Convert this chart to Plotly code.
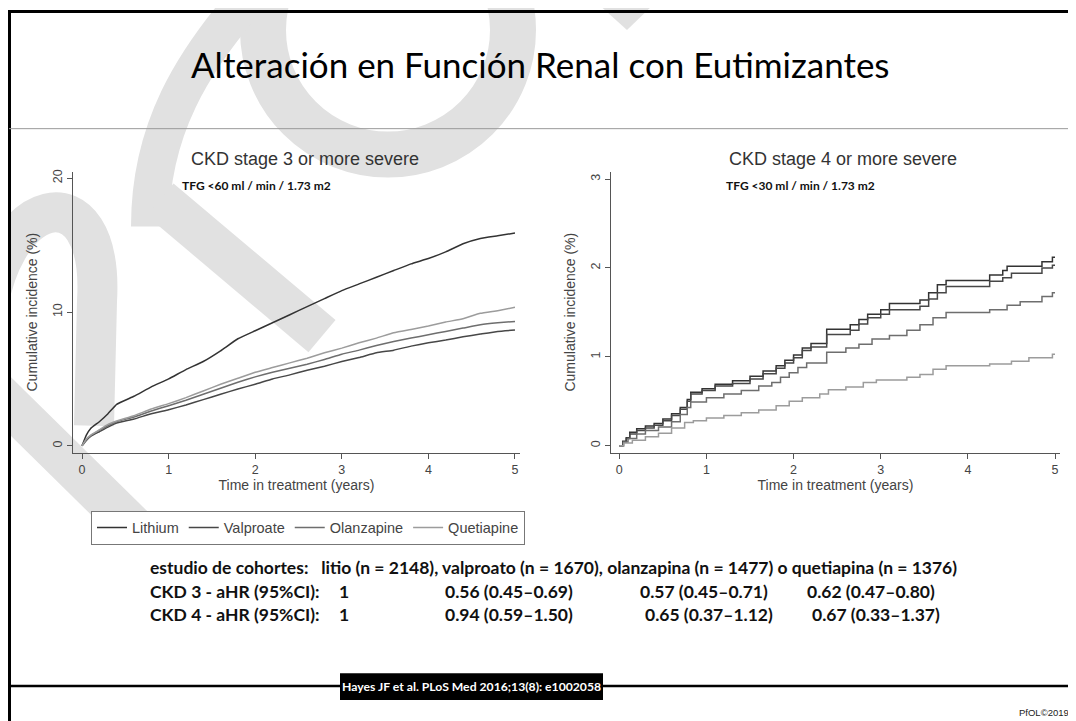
import plotly.graph_objects as go

# la página tiene 8 px de margen: la figura se dibuja desplazada
OFF = 8
W, H = 1076 - OFF, 721 - OFF

# ---- datos: incidencia acumulada (%) por año ----
farmacos = ["Lithium", "Valproate", "Olanzapine", "Quetiapine"]
colores = ["#333333", "#474747", "#6e6e6e", "#9c9c9c"]

# CKD estadio 3
t3 = [0, 0.05, 0.1, 0.2, 0.3, 0.4, 0.6, 0.8, 1.0, 1.2, 1.4, 1.6, 1.8, 2.0, 2.2,
      2.4, 2.6, 2.8, 3.0, 3.2, 3.4, 3.6, 3.8, 4.0, 4.2, 4.4, 4.6, 4.8, 5.0]
litio_3 = [0, 0.8, 1.3, 1.8, 2.4, 3.1, 3.7, 4.4, 5.0, 5.7, 6.3, 7.1, 8.0, 8.6, 9.2,
           9.8, 10.4, 11.0, 11.6, 12.1, 12.6, 13.1, 13.6, 14.0, 14.5, 15.1, 15.5, 15.7, 15.9]
valpro_3 = [0, 0.4, 0.7, 1.05, 1.4, 1.7, 2.0, 2.4, 2.7, 3.05, 3.45, 3.85, 4.25, 4.6, 5.0,
            5.3, 5.65, 5.95, 6.3, 6.6, 6.95, 7.15, 7.45, 7.7, 7.9, 8.15, 8.35, 8.55, 8.65]
olanza_3 = [0, 0.45, 0.75, 1.15, 1.5, 1.8, 2.15, 2.6, 3.0, 3.4, 3.85, 4.3, 4.75, 5.15, 5.5,
            5.8, 6.1, 6.45, 6.85, 7.15, 7.5, 7.8, 8.05, 8.3, 8.55, 8.8, 9.05, 9.2, 9.3]
quetia_3 = [0, 0.5, 0.8, 1.2, 1.6, 1.85, 2.25, 2.75, 3.15, 3.6, 4.1, 4.6, 5.05, 5.5, 5.85,
            6.2, 6.55, 6.95, 7.3, 7.7, 8.05, 8.45, 8.7, 8.95, 9.25, 9.5, 9.9, 10.1, 10.35]

# CKD estadio 4 (curvas escalonadas)
t4_litio = [0, 0.04, 0.08, 0.12, 0.2, 0.3, 0.4, 0.5, 0.6, 0.7, 0.78, 0.82, 0.95, 1.1, 1.3,
            1.5, 1.65, 1.8, 1.9, 2.0, 2.1, 2.2, 2.38, 2.65, 2.75, 2.85, 3.0, 3.1, 3.45,
            3.55, 3.65, 3.75, 4.25, 4.4, 4.45, 4.85, 4.97, 5.0]
litio_4 = [0, 0.05, 0.09, 0.15, 0.19, 0.22, 0.25, 0.3, 0.36, 0.43, 0.52, 0.6, 0.64, 0.69, 0.73,
           0.78, 0.84, 0.9, 0.96, 1.02, 1.1, 1.15, 1.31, 1.36, 1.42, 1.48, 1.53, 1.6, 1.64,
           1.72, 1.81, 1.86, 1.92, 1.97, 2.02, 2.07, 2.12, 2.12]
t4_valpro = [0, 0.04, 0.08, 0.12, 0.2, 0.3, 0.4, 0.5, 0.6, 0.7, 0.78, 0.82, 0.95, 1.1, 1.3,
             1.5, 1.65, 1.8, 1.9, 2.0, 2.1, 2.2, 2.38, 2.65, 2.75, 2.85, 3.0, 3.1, 3.45,
             3.55, 3.65, 3.75, 4.25, 4.4, 4.5, 4.85, 4.97, 5.0]
valpro_4 = [0, 0.04, 0.08, 0.13, 0.17, 0.2, 0.23, 0.28, 0.34, 0.41, 0.5, 0.58, 0.62, 0.67, 0.7,
            0.75, 0.81, 0.87, 0.93, 0.99, 1.07, 1.11, 1.25, 1.3, 1.37, 1.44, 1.48, 1.53, 1.57,
            1.65, 1.72, 1.79, 1.85, 1.89, 1.94, 2.0, 2.03, 2.03]
t4_olanza = [0, 0.05, 0.1, 0.2, 0.3, 0.45, 0.6, 0.7, 0.78, 0.82, 1.0, 1.2, 1.4, 1.6, 1.75,
             1.85, 1.95, 2.05, 2.15, 2.38, 2.6, 2.75, 2.9, 3.1, 3.3, 3.45, 3.6, 3.75, 4.25,
             4.45, 4.6, 4.85, 4.97, 5.0]
olanza_4 = [0, 0.04, 0.08, 0.13, 0.17, 0.21, 0.27, 0.35, 0.43, 0.49, 0.54, 0.58, 0.62, 0.67, 0.71,
            0.77, 0.82, 0.88, 0.93, 1.05, 1.1, 1.14, 1.2, 1.24, 1.3, 1.36, 1.44, 1.5, 1.53,
            1.58, 1.62, 1.68, 1.72, 1.72]
t4_quetia = [0, 0.05, 0.15, 0.3, 0.45, 0.6, 0.75, 0.85, 1.0, 1.2, 1.4, 1.6, 1.8, 1.95, 2.1,
             2.3, 2.4, 2.6, 2.8, 2.95, 3.3, 3.45, 3.6, 3.75, 4.25, 4.5, 4.7, 4.97, 5.0]
quetia_4 = [0, 0.03, 0.06, 0.1, 0.14, 0.2, 0.26, 0.28, 0.31, 0.34, 0.37, 0.4, 0.45, 0.5, 0.54,
            0.58, 0.63, 0.66, 0.71, 0.74, 0.77, 0.8, 0.86, 0.9, 0.92, 0.95, 0.99, 1.03, 1.03]

# textos de la tabla inferior
fila_cohortes = ("estudio de cohortes:   litio (n = 2148), valproato (n = 1670), "
                 "olanzapina (n = 1477) o quetiapina (n = 1376)")
filas_hr = [
    ["CKD 3 - aHR (95%CI):", "1", "0.56 (0.45–0.69)", "0.57 (0.45–0.71)", "0.62 (0.47–0.80)"],
    ["CKD 4 - aHR (95%CI):", "1", "0.94 (0.59–1.50)", "0.65 (0.37–1.12)", "0.67 (0.33–1.37)"],
]


def px(x):
    return (x - OFF) / W


def py(y):
    return 1 - (y - OFF) / H


fig = go.Figure()

datos3 = [litio_3, valpro_3, olanza_3, quetia_3]
for nombre, col, y in zip(farmacos, colores, datos3):
    fig.add_trace(go.Scatter(x=t3, y=y, mode="lines", name=nombre,
                             line=dict(color=col, width=1.5, shape="spline", smoothing=0.3),
                             xaxis="x", yaxis="y"))

datos4 = [(t4_litio, litio_4), (t4_valpro, valpro_4), (t4_olanza, olanza_4), (t4_quetia, quetia_4)]
for nombre, col, (t, y) in zip(farmacos, colores, datos4):
    fig.add_trace(go.Scatter(x=t, y=y, mode="lines", name=nombre, showlegend=False,
                             line=dict(color=col, width=1.5, shape="hv"),
                             xaxis="x2", yaxis="y2"))

fuente_graf = "Liberation Sans, Arial, sans-serif"
f_tit_eje = dict(family=fuente_graf, size=14, color="#444")
eje = dict(showline=True, linecolor="#555", linewidth=1, ticks="outside", ticklen=5,
           tickcolor="#555", showgrid=False, zeroline=False,
           tickfont=dict(family=fuente_graf, size=12.5, color="#444"))

fig.update_layout(
    width=W, height=H, autosize=False,
    margin=dict(l=0, r=0, t=0, b=0),
    paper_bgcolor="white", plot_bgcolor="rgba(0,0,0,0)",
    xaxis=dict(eje, domain=[px(73), px(520)], range=[-0.104, 5.058], dtick=1,
               title=dict(text="Time in treatment (years)", standoff=0, font=f_tit_eje)),
    yaxis=dict(eje, domain=[py(452), py(170)], range=[-0.52, 20.5], tickvals=[0, 10, 20],
               tickangle=-90,
               title=dict(text="Cumulative incidence (%)", standoff=10, font=f_tit_eje)),
    xaxis2=dict(eje, domain=[px(611), px(1060)], range=[-0.095, 5.057], dtick=1, anchor="y2",
                title=dict(text="Time in treatment (years)", standoff=0, font=f_tit_eje)),
    yaxis2=dict(eje, domain=[py(452), py(170)], range=[-0.08, 3.085], tickvals=[0, 1, 2, 3],
                tickangle=-90, anchor="x2",
                title=dict(text="Cumulative incidence (%)", standoff=10, font=f_tit_eje)),
    legend=dict(orientation="h", x=px(91), y=py(510), xanchor="left", yanchor="top",
                bordercolor="#777", borderwidth=1, bgcolor="white",
                font=dict(family=fuente_graf, size=14.5, color="#444"),
                tracegroupgap=0, itemwidth=30),
    showlegend=True,
)

# marca de agua (decoración de fondo)
gris = "#e1e1e1"
marca = [
    dict(type="circle", x0=px(388 - 125), x1=px(388 + 125), y0=py(28 + 125), y1=py(28 - 125),
         line=dict(color=gris, width=46)),
    dict(type="path", path=f"M {px(150)},{py(225)} C {px(150)},{py(130)} {px(190)},{py(60)} {px(258)},{py(-15)}",
         line=dict(color=gris, width=38)),
    dict(type="line", x0=px(160), y0=py(198), x1=px(322), y1=py(335), line=dict(color=gris, width=42)),
    dict(type="path", path=f"M {px(-15)},{py(330)} C {px(-5)},{py(190)} {px(105)},{py(165)} {px(97)},{py(300)} L {px(94)},{py(425)}",
         line=dict(color=gris, width=40)),
    dict(type="line", x0=px(-10), y0=py(385), x1=px(135), y1=py(528), line=dict(color=gris, width=42)),
    dict(type="path", path=f"M {px(596)},{py(0)} L {px(656)},{py(0)} L {px(627)},{py(28)} Z",
         fillcolor=gris, line=dict(width=0)),
]
for s in marca:
    s.update(xref="paper", yref="paper", layer="below")
    fig.add_shape(**s)

# marco de la diapositiva
marco = [
    dict(x0=px(9), y0=py(9.5), x1=px(1076), y1=py(9.5), line=dict(color="black", width=3)),
    dict(x0=px(9.5), y0=py(8), x1=px(9.5), y1=py(721), line=dict(color="black", width=3)),
    dict(x0=px(9), y0=py(127), x1=px(1076), y1=py(127), line=dict(color="#999", width=1)),
    dict(x0=px(9), y0=py(686), x1=px(1076), y1=py(686), line=dict(color="black", width=2.5)),
]
for s in marco:
    fig.add_shape(type="line", xref="paper", yref="paper", **s)
fig.add_shape(type="rect", xref="paper", yref="paper", x0=px(340), x1=px(603),
              y0=py(700), y1=py(673), fillcolor="black", line=dict(width=0))

fuente_txt = "Lato, sans-serif"
notas = [
    dict(x=px(540), y=py(62), text="Alteración en Función Renal con Eutimizantes",
         font=dict(family=fuente_txt, size=35, color="#000"), xanchor="center"),
    dict(x=px(305), y=py(157), text="CKD stage 3 or more severe",
         font=dict(family=fuente_graf, size=18, color="#333"), xanchor="center"),
    dict(x=px(843), y=py(157), text="CKD stage 4 or more severe",
         font=dict(family=fuente_graf, size=18, color="#333"), xanchor="center"),
    dict(x=px(180), y=py(184), text="<b>TFG <60 ml / min / 1.73 m2</b>",
         font=dict(family=fuente_txt, size=12, color="#111"), xanchor="left"),
    dict(x=px(724), y=py(184), text="<b>TFG <30 ml / min / 1.73 m2</b>",
         font=dict(family=fuente_txt, size=12, color="#111"), xanchor="left"),
    dict(x=px(148), y=py(567), text=f"<b>{fila_cohortes}</b>",
         font=dict(family=fuente_txt, size=17.5, color="#111"), xanchor="left"),
    dict(x=px(471.5), y=py(686.5), text="<b>Hayes JF et al. PLoS Med 2016;13(8): e1002058</b>",
         font=dict(family=fuente_txt, size=12.2, color="white"), xanchor="center"),
    dict(x=px(1071), y=py(712), text="PfOL©2019",
         font=dict(family=fuente_graf, size=9.5, color="#222"), xanchor="right"),
]
col_x = [148, 337, 443, 638, 805]
for fila, yy in zip(filas_hr, [591, 614]):
    for i, (txt, xx) in enumerate(zip(fila, col_x)):
        if fila is filas_hr[1] and i >= 3:
            xx += 5
        notas.append(dict(x=px(xx), y=py(yy), text=f"<b>{txt}</b>",
                          font=dict(family=fuente_txt, size=17.5, color="#111"), xanchor="left"))
for n in notas:
    fig.add_annotation(xref="paper", yref="paper", showarrow=False, yanchor="middle", **n)

fig.write_html("out.html")
